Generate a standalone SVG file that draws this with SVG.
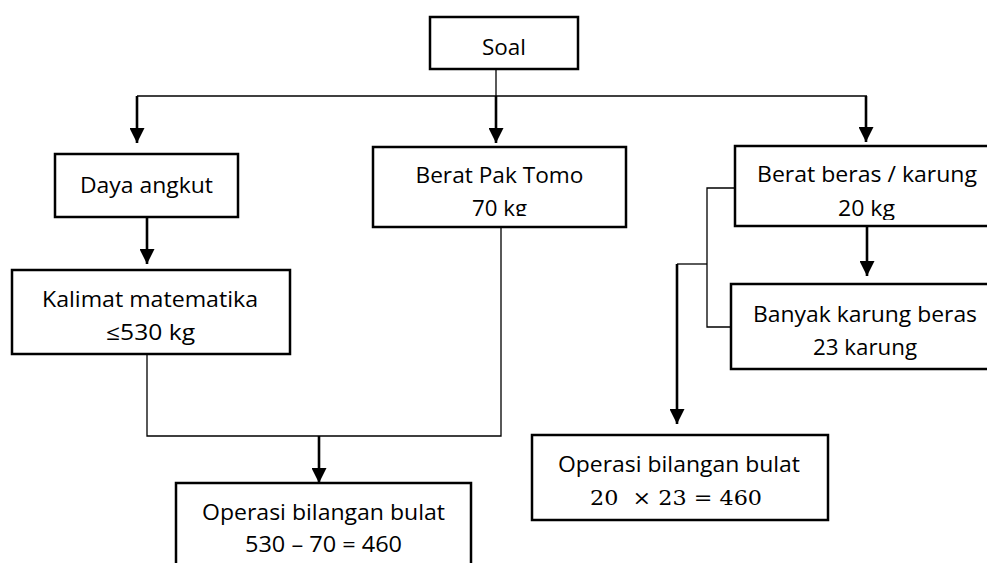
<svg xmlns="http://www.w3.org/2000/svg" width="987" height="563" viewBox="0 0 987 563">
  <style>
    .box { fill: #ffffff; stroke: #000000; stroke-width: 2.5; }
    .thin { fill: none; stroke: #000000; stroke-width: 1.3; }
    .thick { fill: none; stroke: #000000; stroke-width: 2.6; marker-end: url(#arrow); }
    .lbl { font-family: "Open Sans", "Noto Sans", sans-serif; font-size: 21px; fill: #000000; text-anchor: middle; }
    .math { font-family: "DejaVu Serif", "Liberation Serif", serif; font-size: 20px; fill: #000000; text-anchor: middle; }
  </style>
  <defs>
    <marker id="arrow" markerUnits="userSpaceOnUse" markerWidth="15" markerHeight="15" refX="15" refY="7.5" orient="auto">
      <path d="M0,0 L15,7.5 L0,15 Z" fill="#000000"/>
    </marker>
    <!-- text areas of the two boxes whose second line is cut off -->
    <clipPath id="clipTomo"><rect x="375" y="149" width="249" height="67"/></clipPath>
    <clipPath id="clipBeras"><rect x="737" y="148" width="250" height="72"/></clipPath>
  </defs>
  <rect width="987" height="563" fill="#ffffff"/>

  <g id="connectors">
    <!-- top distribution line -->
    <polyline class="thin" points="496,69 496,96"/>
    <line class="thin" x1="137" y1="96" x2="867" y2="96"/>
    <line class="thick" x1="137" y1="96" x2="137" y2="143"/>
    <line class="thick" x1="496" y1="96" x2="496" y2="143"/>
    <line class="thick" x1="866" y1="96" x2="866" y2="142"/>
    <!-- left column -->
    <line class="thick" x1="147" y1="217" x2="147" y2="264"/>
    <polyline class="thin" points="147,354 147,436 501,436 501,227"/>
    <line class="thick" x1="319" y1="436" x2="319" y2="483"/>
    <!-- right column -->
    <line class="thick" x1="867" y1="226" x2="867" y2="276"/>
    <polyline class="thin" points="735,188 707,188 707,327 731,327"/>
    <polyline class="thin" points="707,264 677,264"/>
    <line class="thick" x1="677" y1="264" x2="677" y2="424"/>
  </g>

  <g id="soal">
    <rect class="box" x="430" y="17" width="148" height="52"/>
    <text class="lbl" x="504" y="55" textLength="44" lengthAdjust="spacingAndGlyphs">Soal</text>
  </g>

  <g id="daya-angkut">
    <rect class="box" x="55" y="154" width="183" height="63"/>
    <text class="lbl" x="146.5" y="193" textLength="133" lengthAdjust="spacingAndGlyphs">Daya angkut</text>
  </g>

  <g id="berat-pak-tomo">
    <rect class="box" x="373" y="147" width="253" height="80"/>
    <g clip-path="url(#clipTomo)">
      <text class="lbl" x="499.5" y="183" textLength="168" lengthAdjust="spacingAndGlyphs">Berat Pak Tomo</text>
      <text class="lbl" x="499.5" y="216" textLength="55" lengthAdjust="spacingAndGlyphs">70 kg</text>
    </g>
  </g>

  <g id="berat-beras">
    <rect class="box" x="735" y="146" width="270" height="80"/>
    <g clip-path="url(#clipBeras)">
      <text class="lbl" x="867" y="182" textLength="220" lengthAdjust="spacingAndGlyphs">Berat beras / karung</text>
      <text class="lbl" x="866.5" y="216" textLength="57" lengthAdjust="spacingAndGlyphs">20 kg</text>
    </g>
  </g>

  <g id="kalimat-matematika">
    <rect class="box" x="12" y="270" width="278" height="84"/>
    <text class="lbl" x="150" y="307" textLength="216" lengthAdjust="spacingAndGlyphs">Kalimat matematika</text>
    <text class="lbl" x="150.5" y="340" textLength="89" lengthAdjust="spacingAndGlyphs">≤530 kg</text>
  </g>

  <g id="banyak-karung">
    <rect class="box" x="731" y="284" width="270" height="85"/>
    <text class="lbl" x="865" y="322" textLength="224" lengthAdjust="spacingAndGlyphs">Banyak karung beras</text>
    <text class="lbl" x="865" y="355" textLength="104" lengthAdjust="spacingAndGlyphs">23 karung</text>
  </g>

  <g id="operasi-kurang">
    <rect class="box" x="176" y="483" width="295" height="100"/>
    <text class="lbl" x="323.5" y="520" textLength="243" lengthAdjust="spacingAndGlyphs">Operasi bilangan bulat</text>
    <text class="lbl" x="323.5" y="552" textLength="157" lengthAdjust="spacingAndGlyphs">530 – 70 = 460</text>
  </g>

  <g id="operasi-kali">
    <rect class="box" x="532" y="435" width="296" height="85"/>
    <text class="lbl" x="679" y="472" textLength="242" lengthAdjust="spacingAndGlyphs">Operasi bilangan bulat</text>
    <text class="math" x="676" y="505" textLength="172" lengthAdjust="spacingAndGlyphs" xml:space="preserve">20  × 23 = 460</text>
  </g>
</svg>
